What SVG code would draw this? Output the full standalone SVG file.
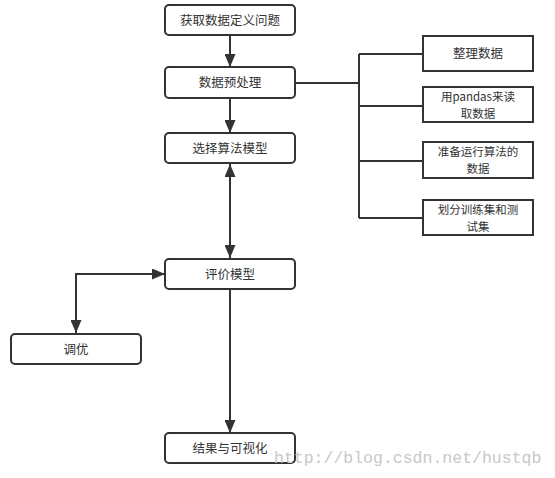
<svg xmlns="http://www.w3.org/2000/svg" width="555" height="478" viewBox="0 0 555 478">
<style>
.n{fill:#fff;stroke:#333;stroke-width:2}
.t{font-family:"Noto Sans CJK SC","Noto Sans",sans-serif;font-size:12.5px;fill:#333;text-anchor:middle}
.s{font-size:11.5px}
.c{fill:none;stroke:#333;stroke-width:2}
.w{font-family:"Liberation Mono",monospace;font-size:16.5px;fill:#c8c8c8}
</style>
<defs>
<marker id="a" markerWidth="13" markerHeight="11" viewBox="0 0 13 11" refX="13" refY="5.5" orient="auto" markerUnits="userSpaceOnUse">
<path d="M0,0 L13,5.5 L0,11 Z" fill="#333"/>
</marker>
<marker id="as" markerWidth="13" markerHeight="11" viewBox="0 0 13 11" refX="0" refY="5.5" orient="auto" markerUnits="userSpaceOnUse">
<path d="M13,0 L0,5.5 L13,11 Z" fill="#333"/>
</marker>
</defs>
<g id="connectors">
<path class="c" d="M230,35 V67" marker-end="url(#a)"/>
<path class="c" d="M230,98 V133" marker-end="url(#a)"/>
<path class="c" d="M230,164 V258" marker-start="url(#as)" marker-end="url(#a)"/>
<path class="c" d="M165,274 H76 V333" marker-start="url(#as)" marker-end="url(#a)"/>
<path class="c" d="M230,290 V433" marker-end="url(#a)"/>
<path class="c" d="M295,83 H359 M359,54 V218 M359,54 H423 M359,106 H423 M359,161 H423 M359,218 H423"/>
</g>
<g id="n1"><rect class="n" x="165" y="5" width="130" height="30" rx="4"/><text class="t" x="230" y="24.5">获取数据定义问题</text></g>
<g id="n2"><rect class="n" x="165" y="67" width="130" height="31" rx="4"/><text class="t" x="230" y="87">数据预处理</text></g>
<g id="n3"><rect class="n" x="165" y="133" width="130" height="30" rx="4"/><text class="t" x="230" y="152.5">选择算法模型</text></g>
<g id="n4"><rect class="n" x="165" y="259" width="130" height="30" rx="4"/><text class="t" x="230" y="278.5">评价模型</text></g>
<g id="n5"><rect class="n" x="11" y="334" width="130" height="30" rx="4"/><text class="t" x="76" y="353.5">调优</text></g>
<g id="n6"><rect class="n" x="165" y="433" width="130" height="30" rx="4"/><text class="t" x="230" y="452.5">结果与可视化</text></g>
<g id="r1"><rect class="n" x="423" y="36" width="110" height="35"/><text class="t" x="478" y="58">整理数据</text></g>
<g id="r2"><rect class="n" x="423" y="87" width="110" height="35"/><text class="t s" x="478" y="101">用pandas来读</text><text class="t s" x="478" y="118">取数据</text></g>
<g id="r3"><rect class="n" x="423" y="142" width="110" height="36"/><text class="t s" x="478" y="156">准备运行算法的</text><text class="t s" x="478" y="173">数据</text></g>
<g id="r4"><rect class="n" x="423" y="200" width="110" height="35"/><text class="t s" x="478" y="214">划分训练集和测</text><text class="t s" x="478" y="231">试集</text></g>
<text class="w" x="274" y="463">http://blog.csdn.net/hustqb</text>
</svg>
